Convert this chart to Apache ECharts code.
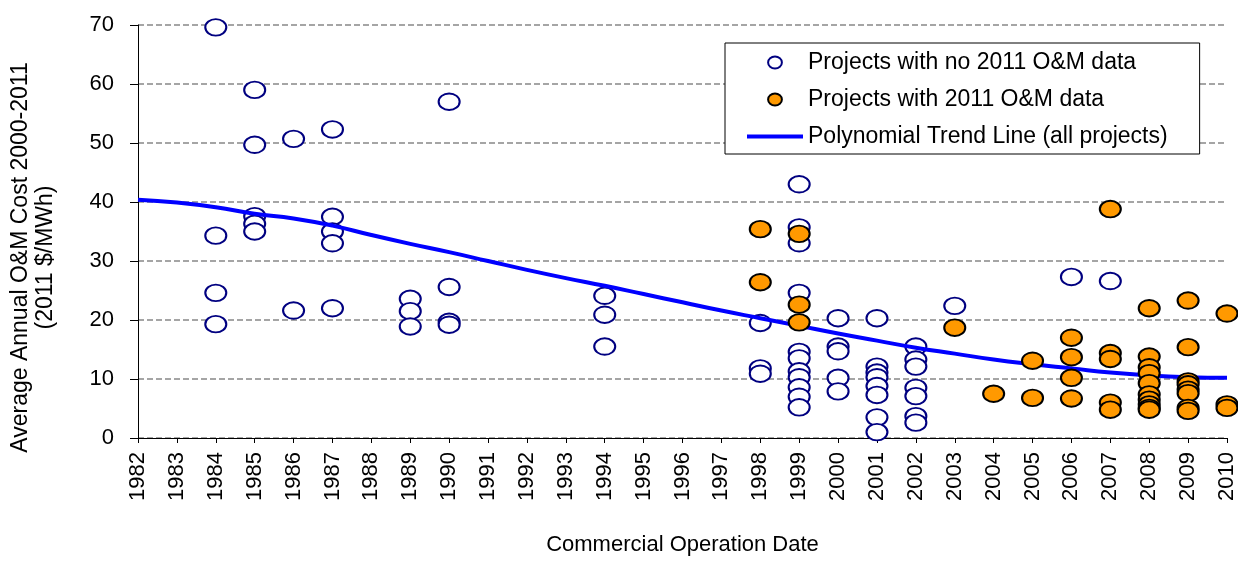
<!DOCTYPE html>
<html>
<head>
<meta charset="utf-8">
<script src="https://cdn.jsdelivr.net/npm/echarts@6/dist/echarts.min.js"></script>
<style>html,body{margin:0;padding:0;background:#fff}#c{width:1238px;height:561px}</style>
</head>
<body>
<div id="c"></div>
<script>
// Projects with no 2011 O&M data (open circles)
var noDataYears = [
  1984,1984,1984,1984,
  1985,1985,1985,1985,1985,
  1986,1986,
  1987,1987,1987,1987,1987,
  1989,1989,1989,
  1990,1990,1990,1990,
  1994,1994,1994,
  1998,1998,1998,
  1999,1999,1999,1999,1999,1999,1999,1999,1999,1999,1999,
  2000,2000,2000,2000,2000,
  2001,2001,2001,2001,2001,2001,2001,2001,
  2002,2002,2002,2002,2002,2002,2002,
  2003,
  2006,
  2007
];
var noDataCost = [
  69.6,34.3,24.6,19.3,
  59.0,49.7,37.6,36.3,35.0,
  50.7,21.6,
  52.3,37.5,35.0,33.0,22.0,
  23.6,21.5,18.9,
  57.0,25.6,19.7,19.2,
  24.1,20.9,15.5,
  19.5,11.8,10.9,
  43.0,35.7,33.0,24.6,14.6,13.5,11.3,10.3,8.6,7.0,5.2,
  20.3,15.5,14.7,10.2,7.9,
  20.3,12.1,11.1,10.3,8.8,7.3,3.5,1.0,
  15.5,13.3,12.1,8.5,7.1,3.7,2.6,
  22.4,
  27.3,
  26.6
];
// Projects with 2011 O&M data (filled orange)
var withDataYears = [
  1998,1998,
  1999,1999,1999,
  2003,
  2004,
  2005,2005,
  2006,2006,2006,2006,
  2007,2007,2007,2007,2007,
  2008,2008,2008,2008,2008,2008,2008,2008,2008,2008,
  2009,2009,2009,2009,2009,2009,2009,2009,
  2010,2010,2010
];
var withDataCost = [
  35.4,26.4,
  34.6,22.6,19.6,
  18.7,
  7.5,
  13.1,6.8,
  17.0,13.7,10.2,6.7,
  38.8,14.4,13.4,6.0,4.8,
  22.0,13.8,12.0,11.0,9.3,7.4,6.5,5.7,5.1,4.8,
  23.3,15.4,9.6,9.1,8.2,7.6,5.1,4.6,
  21.1,5.7,5.1
];
// Polynomial trend line (all projects), read per year
var trendYears = [1982,1983,1984,1985,1986,1987,1988,1989,1990,1991,1992,1993,1994,1995,1996,1997,1998,1999,2000,2001,2002,2003,2004,2005,2006,2007,2008,2009,2010];
var trendCost  = [40.4,39.9,39.1,38.0,37.2,36.0,34.4,32.9,31.5,30.0,28.5,27.1,25.8,24.4,23.0,21.6,20.3,19.0,17.7,16.5,15.3,14.3,13.3,12.5,11.8,11.1,10.6,10.3,10.2];

var seriesNames = ['Projects with no 2011 O&M data','Projects with 2011 O&M data','Polynomial Trend Line (all projects)'];
var yTitle = 'Average Annual O&M Cost 2000-2011\n(2011 $/MWh)';
var xTitle = 'Commercial Operation Date';

function zip(a, b){ var r=[]; for(var i=0;i<a.length;i++) r.push([a[i], b[i]]); return r; }

var ell = 'path://M0 10A11.5 10 0 1 1 23 10A11.5 10 0 1 1 0 10Z';
var lineIcon = 'path://M0 0H56V4H0Z';
var FONT = '"Liberation Sans", Arial, sans-serif';

var chart = echarts.init(document.getElementById('c'), null, {renderer:'canvas'});
chart.setOption({
  animation: false,
  backgroundColor: '#fff',
  textStyle: {fontFamily: FONT, color: '#000'},
  grid: {left: 138, right: 5, top: 25, bottom: 119, containLabel: false},
  legend: {
    orient: 'vertical', left: 725, top: 43,
    padding: [8, 32, 6, 22],
    itemWidth: 56, itemHeight: 12, itemGap: 14,
    borderColor: '#000', borderWidth: 1, backgroundColor: '#fff',
    textStyle: {fontFamily: FONT, fontSize: 23, color: '#000'},
    data: [
      {name: seriesNames[0]},
      {name: seriesNames[1]},
      {name: seriesNames[2], icon: lineIcon, itemStyle: {color: '#0000ff', borderWidth: 0}}
    ]
  },
  xAxis: {
    type: 'value', min: 1982, max: 2010, interval: 1,
    name: xTitle, nameLocation: 'middle', nameGap: 96,
    nameTextStyle: {fontFamily: FONT, fontSize: 22, color: '#000'},
    axisLine: {show: true, onZero: false, lineStyle: {color: '#000', width: 1}},
    axisTick: {show: true, length: 5, lineStyle: {color: '#000'}},
    axisLabel: {rotate: 90, margin: 14, fontFamily: FONT, fontSize: 22, color: '#000', formatter: function(v){return String(v);}},
    splitLine: {show: false}
  },
  yAxis: {
    type: 'value', min: 0, max: 70, interval: 10,
    name: yTitle, nameLocation: 'middle', nameGap: 80,
    nameTextStyle: {fontFamily: FONT, fontSize: 23, lineHeight: 25, color: '#000', padding: [0, 52, 0, 0]},
    axisLine: {show: true, lineStyle: {color: '#000', width: 1}},
    axisTick: {show: true, length: 8, lineStyle: {color: '#000'}},
    axisLabel: {margin: 24, fontFamily: FONT, fontSize: 22, color: '#000'},
    splitLine: {show: true, lineStyle: {color: '#888', width: 1.5, type: [6, 3]}}
  },
  series: [
    {
      name: seriesNames[0], type: 'scatter', z: 2,
      symbol: ell, symbolKeepAspect: true, symbolSize: [21, 19],
      itemStyle: {color: '#fff', borderColor: '#000080', borderWidth: 2, opacity: 1},
      data: zip(noDataYears, noDataCost)
    },
    {
      name: seriesNames[2], type: 'line', z: 3,
      symbol: 'none', smooth: true,
      lineStyle: {color: '#0000ff', width: 4},
      itemStyle: {color: '#0000ff'},
      data: zip(trendYears, trendCost)
    },
    {
      name: seriesNames[1], type: 'scatter', z: 4,
      symbol: ell, symbolKeepAspect: true, symbolSize: [21, 19],
      itemStyle: {color: '#ff9900', borderColor: '#000', borderWidth: 2, opacity: 1},
      data: zip(withDataYears, withDataCost)
    }
  ]
});
</script>
</body>
</html>
